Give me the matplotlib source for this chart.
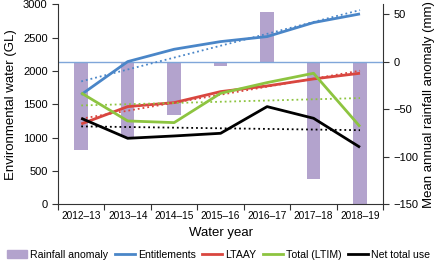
import numpy as np
import matplotlib
matplotlib.use("Agg")
import matplotlib.pyplot as plt
from matplotlib.patches import Patch
from matplotlib.lines import Line2D

plt.rcParams['font.family'] = ['Liberation Sans', 'DejaVu Sans']

# dados
years = ["2012\u201313", "2013\u201314", "2014\u201315", "2015\u201316",
         "2016\u201317", "2017\u201318", "2018\u201319"]
rainfall = [-93, -79, -56, -5, 52, -123, -155]
entitlements = [1645, 2140, 2325, 2440, 2515, 2725, 2855]
ltaay = [1205, 1465, 1525, 1690, 1775, 1880, 1965]
total_ltim = [1670, 1250, 1225, 1665, 1825, 1965, 1165]
net_use = [1290, 990, 1025, 1065, 1465, 1290, 855]

c_bar = "#b3a3cd"
c_blue = "#4a86c8"
c_red = "#d9463f"
c_green = "#8dc440"
c_black = "#000000"

fig = plt.figure(figsize=(4.37, 2.65), dpi=100)
ax = fig.add_axes([0.1327, 0.229, 0.877 - 0.1327, 0.755])
ax2 = ax.twinx()
ax.set_zorder(ax2.get_zorder() + 1)
ax.patch.set_visible(False)

x = np.arange(len(years))

# barras de anomalia de chuva (eixo direito)
ax2.bar(x, rainfall, width=0.29, color=c_bar, zorder=1)
ax2.axhline(0, color="#7fa6d9", lw=1, zorder=2)
ax2.set_ylim(-150, 60.5)
ax2.set_yticks([-150, -100, -50, 0, 50])
ax2.set_ylabel("Mean annual rainfall anomaly (mm)", fontsize=9.5, labelpad=3)

# linhas + tendências (eixo esquerdo)
for vals, col in [(entitlements, c_blue), (ltaay, c_red),
                  (total_ltim, c_green), (net_use, c_black)]:
    ax.plot(x, vals, color=col, lw=2, solid_capstyle="butt")
    p = np.polyfit(x, vals, 1)
    ax.plot(x, np.polyval(p, x), ":", color=col, lw=1.3)

ax.set_ylim(0, 3000)
ax.set_yticks(np.arange(0, 3001, 500))
ax.set_xlim(-0.5, len(years) - 0.5)
ax.set_xticks(np.arange(-0.5, len(years), 1))
ax.set_xticklabels([])
ax.set_xticks(x, minor=True)
ax.set_xticklabels(years, minor=True)
ax.set_ylabel("Environmental water (GL)", fontsize=9.5, labelpad=4)
ax.set_xlabel("Water year", fontsize=9.5, labelpad=4)

for a in (ax, ax2):
    a.tick_params(labelsize=8, length=4, width=0.8, color="#333333")
    a.spines["top"].set_visible(False)
    for s in a.spines.values():
        s.set_color("#333333")
        s.set_linewidth(0.8)
ax.tick_params(axis="x", which="minor", length=0, pad=5, labelsize=7.3)
ax.tick_params(axis="x", which="major", length=4, direction="out")
ax.spines["right"].set_visible(False)
ax2.spines["left"].set_visible(False)
ax2.spines["bottom"].set_visible(False)

handles = [Patch(color=c_bar),
           Line2D([], [], color=c_blue, lw=2),
           Line2D([], [], color=c_red, lw=2),
           Line2D([], [], color=c_green, lw=2),
           Line2D([], [], color=c_black, lw=2)]
labels = ["Rainfall anomaly", "Entitlements", "LTAAY", "Total (LTIM)", "Net total use"]
fig.legend(handles, labels, loc="lower center", bbox_to_anchor=(0.5, 0.0),
           ncol=5, frameon=False, fontsize=7.6, handlelength=1.9,
           handletextpad=0.3, columnspacing=0.6, borderaxespad=0.1)

fig.savefig("out.png", dpi=100)
